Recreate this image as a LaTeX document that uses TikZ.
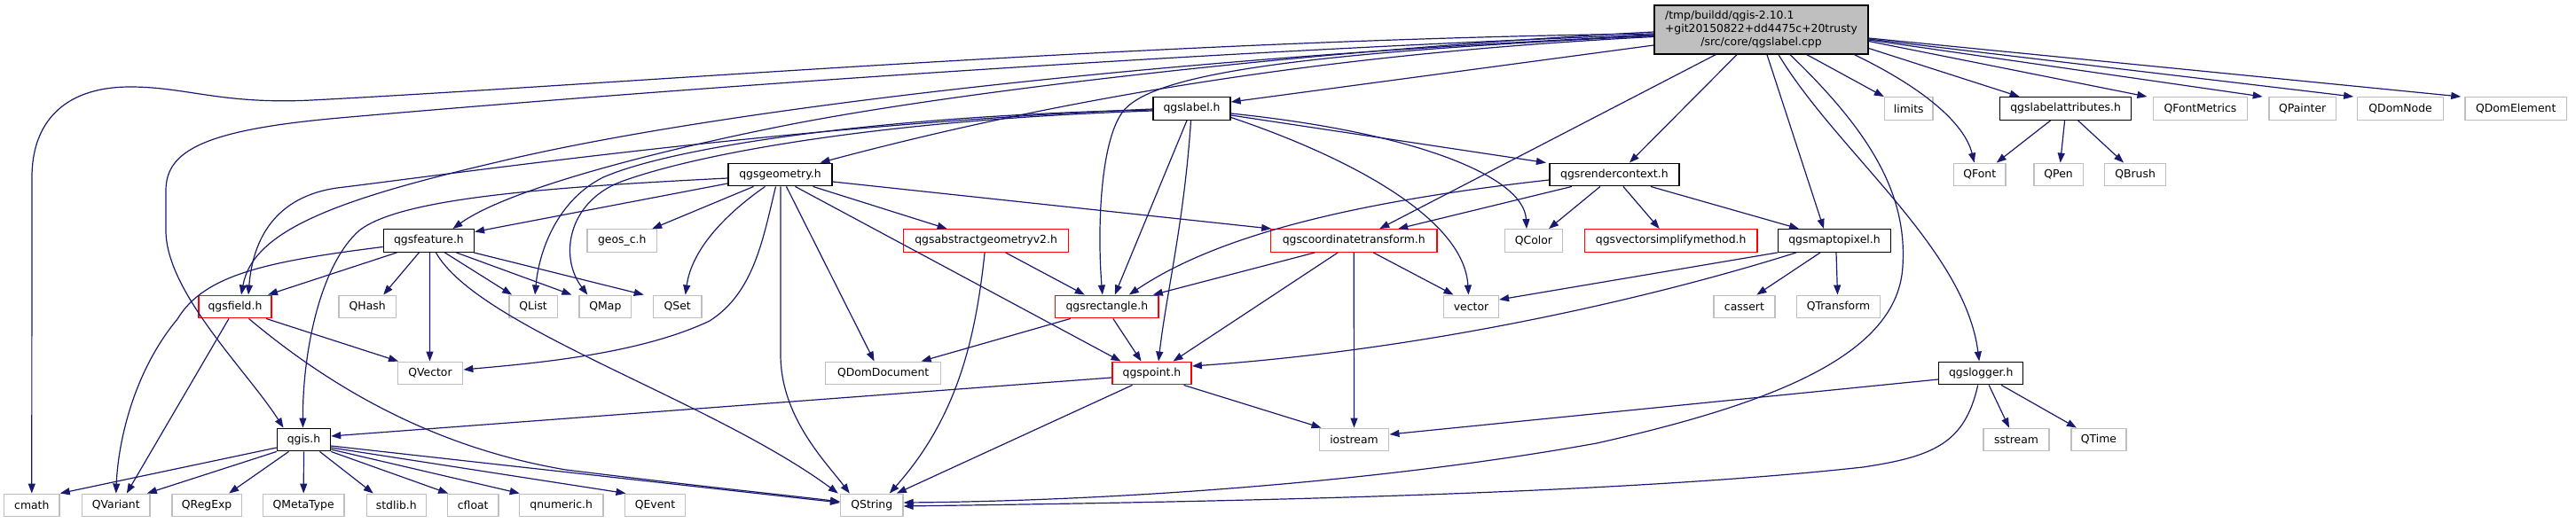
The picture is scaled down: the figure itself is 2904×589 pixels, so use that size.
\documentclass[tikz,border=0pt]{standalone}
\usepackage{fontspec}
\setmainfont{DejaVu Sans}
\usetikzlibrary{arrows.meta,calc}
\definecolor{edgec}{HTML}{191970}
\definecolor{grayb}{HTML}{BFBFBF}
\definecolor{redb}{HTML}{FF0000}
\newcommand{\fsz}{\fontsize{12.4}{15}\selectfont}
\tikzset{
  box/.style={draw, fill=white, line width=1.4pt, inner sep=0pt, minimum height=25.5pt, font=\fsz},
  blk/.style={box, draw=black},
  gry/.style={box, draw=grayb},
  rdb/.style={box, draw=redb},
  arr/.style={draw=edgec, line width=1.2pt, -{Triangle[length=11pt,width=8pt]}}
}
\begin{document}
\begin{tikzpicture}[x=1pt,y=-1pt]
\useasboundingbox (0,0) rectangle (2904,589);
% nodes
\node[box, fill=grayb, draw=black, minimum width=241pt, minimum height=55pt, align=center] (m) at (1985.5,33.5)
  {\rlap{/tmp/buildd/qgis-2.10.1}\phantom{+git20150822+dd4475c+20trusty}\\+git20150822+dd4475c+20trusty\\/src/core/qgslabel.cpp};
\node[blk, minimum width=87pt] (lbl) at (1343.5,122.5) {qgslabel.h};
\node[gry, minimum width=54.5pt] (lim) at (2151.8,122.5) {limits};
\node[blk, minimum width=148pt] (la) at (2328.6,122.5) {qgslabelattributes.h};
\node[gry, minimum width=106pt] (qfm) at (2480.4,122.5) {QFontMetrics};
\node[gry, minimum width=75.4pt] (qpa) at (2595.7,122.5) {QPainter};
\node[gry, minimum width=97pt] (qdn) at (2706.1,122.5) {QDomNode};
\node[gry, minimum width=114.8pt] (qde) at (2836.2,122.5) {QDomElement};
\node[blk, minimum width=117.3pt] (geo) at (879.5,197) {qgsgeometry.h};
\node[blk, minimum width=146pt] (rc) at (1819.9,197) {qgsrendercontext.h};
\node[gry, minimum width=58.7pt] (qfo) at (2231.7,197) {QFont};
\node[gry, minimum width=55.4pt] (qpe) at (2320.6,197) {QPen};
\node[gry, minimum width=68.9pt] (qbr) at (2407.1,197) {QBrush};
\node[blk, minimum width=102pt] (fea) at (483.4,271.5) {qgsfeature.h};
\node[gry, minimum width=78.4pt] (geos) at (701.2,271.5) {geos\_c.h};
\node[rdb, minimum width=186.2pt] (abs) at (1111.6,271.5) {qgsabstractgeometryv2.h};
\node[rdb, minimum width=187.5pt] (ct) at (1526.2,271.5) {qgscoordinatetransform.h};
\node[gry, minimum width=65pt] (qco) at (1729,271.5) {QColor};
\node[rdb, minimum width=194.5pt] (vsm) at (1883.7,271.5) {qgsvectorsimplifymethod.h};
\node[blk, minimum width=127pt] (m2p) at (2068,271.5) {qgsmaptopixel.h};
\node[rdb, minimum width=82.2pt] (fld) at (265,346) {qgsfield.h};
\node[gry, minimum width=64.4pt] (qha) at (414.2,346) {QHash};
\node[gry, minimum width=54.2pt] (qli) at (601.1,346) {QList};
\node[gry, minimum width=58.7pt] (qma) at (682.4,346) {QMap};
\node[gry, minimum width=54.2pt] (qse) at (763.7,346) {QSet};
\node[rdb, minimum width=116.7pt] (rec) at (1247.8,346) {qgsrectangle.h};
\node[gry, minimum width=61.8pt] (vec) at (1658.5,346) {vector};
\node[gry, minimum width=68.9pt] (cas) at (1966.4,346) {cassert};
\node[gry, minimum width=93.8pt] (qtr) at (2072.5,346) {QTransform};
\node[gry, minimum width=73.4pt] (qve) at (485,421) {QVector};
\node[gry, minimum width=130pt] (qdd) at (995.6,421) {QDomDocument};
\node[rdb, minimum width=89.3pt] (qpt) at (1298.5,421) {qgspoint.h};
\node[blk, minimum width=95pt] (log) at (2233.2,421) {qgslogger.h};
\node[blk, minimum width=60pt] (qgis) at (342.5,496) {qgis.h};
\node[gry, minimum width=78.5pt] (ios) at (1526.5,496) {iostream};
\node[gry, minimum width=74pt] (sst) at (2273,496) {sstream};
\node[gry, minimum width=61.8pt] (qti) at (2365.9,496) {QTime};
\node[gry, minimum width=62.5pt] (cma) at (35.8,570) {cmath};
\node[gry, minimum width=76.5pt] (qva) at (130.8,570) {QVariant};
\node[gry, minimum width=78.4pt] (qre) at (233.1,570) {QRegExp};
\node[gry, minimum width=91.2pt] (qmt) at (342.2,570) {QMetaType};
\node[gry, minimum width=67pt] (std) at (446.8,570) {stdlib.h};
\node[gry, minimum width=57.4pt] (cfl) at (533.2,570) {cfloat};
\node[gry, minimum width=94.3pt] (qnu) at (632.7,570) {qnumeric.h};
\node[gry, minimum width=67.6pt] (qev) at (738.5,570) {QEvent};
\node[gry, minimum width=70.2pt] (qst) at (982.8,570) {QString};
% edges from main
\draw[arr] ([yshift=-4.5pt]m.west) .. controls (1300,45) and (700,95) .. (351,113) .. controls (250,118) and (210,98) .. (147,98) .. controls (70,98) and (36,140) .. (36,200) -- (cma.north);
\draw[arr] ([yshift=-5.5pt]m.west) .. controls (1300,60) and (700,105) .. (383,133) .. controls (230,146.5) and (187,170) .. (187,215) -- (187,260) .. controls (187,330) and (280,420) .. ([xshift=-23pt]qgis.north);
\draw[arr] ([yshift=-6.5pt]m.west) .. controls (1300,65) and (800,125) .. (560,183) .. controls (380,225) and (285,260) .. ([xshift=7pt]fld.north);
\draw[arr] ([yshift=-2.5pt]m.west) .. controls (1500,55) and (1100,100) .. (893,140) .. controls (730,172) and (570,215) .. ([xshift=27pt]fea.north);
\draw[arr] ([yshift=-8pt]m.west) .. controls (1500,60) and (1200,110) .. ([xshift=45pt]geo.north);
\draw[arr] ([yshift=-7pt]m.west) .. controls (1450,60) and (1295,85) .. (1265,127) .. controls (1240,162) and (1237,260) .. ([xshift=-5pt]rec.north);
\draw[arr] ([yshift=-17.5pt]m.west) -- ([yshift=7.5pt]lbl.east);
\draw[arr] ([xshift=-51.5pt]m.south) -- ([xshift=29pt]ct.north);
\draw[arr] ([xshift=-27.5pt]m.south) -- ([xshift=17pt]rc.north);
\draw[arr] ([xshift=6.5pt]m.south) -- ([xshift=-12pt]m2p.north);
\draw[arr] ([xshift=19.5pt]m.south) .. controls (2070,170) and (2215,280) .. ([xshift=-2pt]log.north);
\draw[arr] ([xshift=32.5pt]m.south) .. controls (2110,150) and (2150,220) .. (2145,300) .. controls (2140,400) and (2000,455) .. (1800,500) .. controls (1550,545) and (1250,565) .. ([yshift=3pt]qst.east);
\draw[arr] ([xshift=51.5pt]m.south) -- ([xshift=-28pt]lim.north);
\draw[arr] ([xshift=105pt]m.south) .. controls (2170,100) and (2215,140) .. ([xshift=-6pt]qfo.north);
\draw[arr] ([yshift=-21pt]m.east) -- ([xshift=-52pt]la.north);
\draw[arr] ([yshift=-13pt]m.east) -- ([xshift=-60pt]qfm.north);
\draw[arr] ([yshift=-11.5pt]m.east) -- ([xshift=-45pt]qpa.north);
\draw[arr] ([yshift=-10.5pt]m.east) -- ([xshift=-53pt]qdn.north);
\draw[arr] ([yshift=-9.5pt]m.east) -- ([xshift=-62pt]qde.north);
% qgslabel.h
\draw[arr] ([yshift=-0.5pt]lbl.west) .. controls (900,140) and (520,195) .. (380,212) .. controls (310,222) and (285,270) .. ([xshift=15pt]fld.north);
\draw[arr] ([yshift=-1.5pt]lbl.west) .. controls (1000,130) and (760,165) .. (680,200) .. controls (630,225) and (608,280) .. ([xshift=2pt]qli.north);
\draw[arr] ([yshift=-2.5pt]lbl.west) .. controls (1000,135) and (790,172) .. (700,205) .. controls (640,228) and (630,290) .. ([xshift=-20pt]qma.north);
\draw[arr] ([yshift=-7.5pt]lbl.east) -- ([xshift=-77pt]rc.north);
\draw[arr] ([yshift=-5.5pt]lbl.east) .. controls (1600,150) and (1718,200) .. ([xshift=-8pt]qco.north);
\draw[arr] ([yshift=-10pt]lbl.east) .. controls (1500,170) and (1650,240) .. ([xshift=-3pt]vec.north);
\draw[arr] ([xshift=-5.5pt]lbl.south) -- ([xshift=9pt]rec.north);
\draw[arr] ([xshift=-1pt]lbl.south) .. controls (1335,250) and (1315,330) .. ([xshift=7.5pt]qpt.north);
% qgsgeometry.h
\draw[arr] ([yshift=-10pt]geo.west) -- ([yshift=10pt]fea.east);
\draw[arr] ([yshift=-4pt]geo.west) .. controls (600,212) and (450,225) .. (405,260) .. controls (360,300) and (341,400) .. ([xshift=-1pt]qgis.north);
\draw[arr] ([xshift=-30pt]geo.south) -- ([xshift=34pt]geos.north);
\draw[arr] ([xshift=-17pt]geo.south) .. controls (820,240) and (780,280) .. ([xshift=9pt]qse.north);
\draw[arr] ([xshift=-5pt]geo.south) .. controls (860,270) and (850,330) .. (800,362) .. controls (720,400) and (600,410) .. ([yshift=4pt]qve.east);
\draw[arr] ([xshift=0.5pt]geo.south) -- (880,400) .. controls (880,470) and (930,520) .. ([xshift=-25pt]qst.north);
\draw[arr] ([xshift=7pt]geo.south) -- ([xshift=-10pt]qdd.north);
\draw[arr] ([xshift=17pt]geo.south) -- ([xshift=-35pt]qpt.north);
\draw[arr] ([xshift=37pt]geo.south) -- ([xshift=-44pt]abs.north);
\draw[arr] ([yshift=-8pt]geo.east) -- ([xshift=-93pt]ct.north);
% qgsfeature.h
\draw[arr] ([xshift=-36pt]fea.south) -- ([xshift=37pt]fld.north);
\draw[arr] ([yshift=-7pt]fea.west) .. controls (300,295) and (230,310) .. (200,360) .. controls (150,420) and (133,500) .. (qva.north);
\draw[arr] ([xshift=-11pt]fea.south) -- ([xshift=18pt]qha.north);
\draw[arr] ([xshift=1pt]fea.south) -- ([xshift=-0.5pt]qve.north);
\draw[arr] ([xshift=8pt]fea.south) .. controls (540,370) and (800,450) .. ([xshift=-38pt]qst.north);
\draw[arr] ([xshift=18pt]fea.south) -- ([xshift=-24pt]qli.north);
\draw[arr] ([xshift=31pt]fea.south) -- ([xshift=-38pt]qma.north);
\draw[arr] ([xshift=-1pt]fea.south east) -- ([xshift=-38pt]qse.north);
% qgsfield.h
\draw[arr] ([xshift=-7pt]fld.south) -- ([xshift=12pt]qva.north);
\draw[arr] ([xshift=35pt]fld.south) -- ([xshift=-36pt]qve.north);
\draw[arr] ([xshift=15.5pt]fld.south) .. controls (400,460) and (520,510) .. (638,530) .. controls (800,550) and (900,560) .. ([yshift=4pt]qst.west);
% qgis.h
\draw[arr] ([yshift=-9pt]qgis.west) -- (cma.north east);
\draw[arr] (qgis.south west) -- ([xshift=35pt]qva.north);
\draw[arr] ([xshift=-17pt]qgis.south) -- ([xshift=25pt]qre.north);
\draw[arr] (qgis.south) -- (qmt.north);
\draw[arr] ([xshift=18pt]qgis.south) -- ([xshift=-26pt]std.north);
\draw[arr] (qgis.south east) -- ([xshift=-28pt]cfl.north);
\draw[arr] ([yshift=-11pt]qgis.east) -- ([xshift=-47pt]qnu.north);
\draw[arr] ([yshift=-9pt]qgis.east) -- ([xshift=-33pt]qev.north);
\draw[arr] ([yshift=-7pt]qgis.east) -- ([yshift=3pt]qst.west);
% qgsabstractgeometryv2.h
\draw[arr] ([xshift=22pt]abs.south) -- ([xshift=-25pt]rec.north);
\draw[arr] ([xshift=-1.5pt]abs.south) .. controls (1100,380) and (1080,470) .. ([xshift=20pt]qst.north);
% qgscoordinatetransform.h
\draw[arr] ([xshift=-44pt]ct.south) -- ([xshift=52pt]rec.north);
\draw[arr] ([xshift=-18pt]ct.south) -- ([xshift=24pt]qpt.north);
\draw[arr] (ct.south) -- (ios.north);
\draw[arr] ([xshift=22pt]ct.south) -- ([xshift=-20pt]vec.north);
% qgsrendercontext.h
\draw[arr] ([yshift=-6pt]rc.west) .. controls (1550,225) and (1380,260) .. ([xshift=25pt]rec.north);
\draw[arr] ([xshift=-48pt]rc.south) -- ([xshift=50pt]ct.north);
\draw[arr] ([xshift=-16pt]rc.south) -- ([xshift=17pt]qco.north);
\draw[arr] ([xshift=10pt]rc.south) -- ([xshift=-13pt]vsm.north);
\draw[arr] ([xshift=41pt]rc.south) -- ([xshift=-40pt]m2p.north);
% qgsmaptopixel.h
\draw[arr] (m2p.south west) -- ([yshift=8pt]vec.east);
\draw[arr] ([xshift=-43pt]m2p.south) .. controls (1850,340) and (1600,395) .. ([yshift=8pt]qpt.east);
\draw[arr] ([xshift=-16pt]m2p.south) -- ([xshift=14pt]cas.north);
\draw[arr] ([xshift=2pt]m2p.south) -- ([xshift=-1pt]qtr.north);
% qgsrectangle.h
\draw[arr] ([xshift=-41pt]rec.south) -- ([xshift=43pt]qdd.north);
\draw[arr] ([xshift=7pt]rec.south) -- ([xshift=-12pt]qpt.north);
% qgspoint.h
\draw[arr] ([yshift=-5pt]qpt.west) -- ([yshift=4pt]qgis.east);
\draw[arr] ([xshift=36pt]qpt.south) -- ([xshift=-37pt]ios.north);
\draw[arr] ([xshift=-22pt]qpt.south) -- ([xshift=28pt]qst.north);
% qgslogger.h
\draw[arr] ([yshift=-7pt]log.west) -- ([yshift=6pt]ios.east);
\draw[arr] ([xshift=9pt]log.south) -- ([xshift=-8pt]sst.north);
\draw[arr] ([xshift=23pt]log.south) -- ([xshift=-25pt]qti.north);
\draw[arr] ([xshift=-3.5pt]log.south) .. controls (2215,500) and (2180,515) .. (2100,527) .. controls (1800,560) and (1300,567) .. ([yshift=-1pt]qst.east);
% qgslabelattributes.h
\draw[arr] ([xshift=-17pt]la.south) -- ([xshift=19pt]qfo.north);
\draw[arr] ([xshift=-1pt]la.south) -- ([xshift=2pt]qpe.north);
\draw[arr] ([xshift=14pt]la.south) -- ([xshift=-13pt]qbr.north);
\end{tikzpicture}
\end{document}
